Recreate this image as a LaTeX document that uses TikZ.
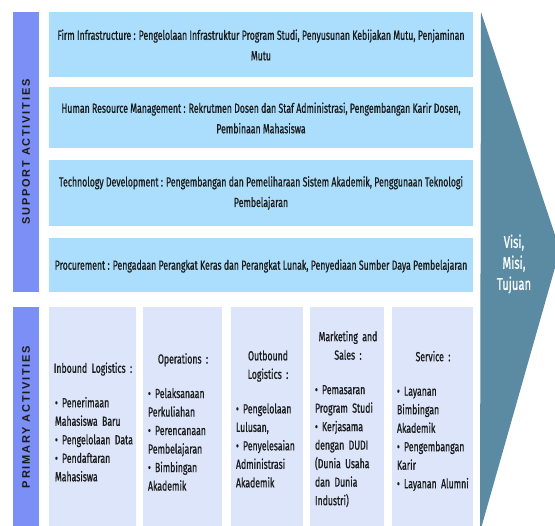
\documentclass[tikz,border=0pt]{standalone}
\usepackage{fontspec}
\setmainfont{Fira Sans}[FakeStretch=0.66, FakeBold=0.8]
\newfontfamily\labelfont{Liberation Sans}[LetterSpace=16]
\definecolor{barc}{HTML}{7C8FF6}
\definecolor{supc}{HTML}{ABDEFC}
\definecolor{primc}{HTML}{DCE5FA}
\definecolor{arrc}{HTML}{5A8BA2}
\definecolor{txtc}{HTML}{1A1A1A}
\newcommand{\bitem}[1]{\par\noindent\hangindent=7pt\hangafter=1\makebox[7pt][l]{\textbullet}#1}
\newcommand{\hdline}[1]{\noindent\makebox[\linewidth][c]{#1}\par}
\begin{document}
\begin{tikzpicture}[x=1pt,y=-1pt,
  bar/.style={fill=barc},
  supbox/.style={fill=supc},
  primbox/.style={fill=primc},
  suptext/.style={font=\fontsize{13.2}{20.5}\selectfont, text=txtc, align=center, inner sep=0pt},
  primtext/.style={font=\fontsize{13.2}{18.5}\selectfont, text=txtc, align=left, inner sep=0pt},
  lbl/.style={font=\labelfont\bfseries\fontsize{11}{12}\selectfont, text=txtc, rotate=90, inner sep=0pt},
  vtext/.style={font=\fontsize{17}{21}\selectfont, text=white, align=center, inner sep=0pt}]
\useasboundingbox (0,0) rectangle (555,526);
% arrow
\fill[arrc] (481,12) -- (560,250) -- (480,532) -- cycle;
\node[vtext] (vmt) at (514,264) {Visi,\\Misi,\\Tujuan};
% label bars
\fill[bar] (13,12) rectangle (39,292);
\fill[bar] (13,307) rectangle (39,526);
\node[lbl] (lsup) at (26,152) {SUPPORT ACTIVITIES};
\node[lbl] (lprim) at (26,417) {PRIMARY ACTIVITIES};
% support boxes
\fill[supbox] (49,12) rectangle (473,77);
\fill[supbox] (49,87) rectangle (473,148);
\fill[supbox] (49,160) rectangle (473,226);
\fill[supbox] (49,238) rectangle (473,292);
\node[suptext] (s1) at (261,45) {Firm Infrastructure : Pengelolaan Infrastruktur Program Studi, Penyusunan Kebijakan Mutu, Penjaminan\\Mutu};
\node[suptext] (s2) at (261,118) {Human Resource Management : Rekrutmen Dosen dan Staf Administrasi, Pengembangan Karir Dosen,\\Pembinaan Mahasiswa};
\node[suptext] (s3) at (261,193) {Technology Development : Pengembangan dan Pemeliharaan Sistem Akademik, Penggunaan Teknologi\\Pembelajaran};
\node[suptext] (s4) at (261,266) {Procurement : Pengadaan Perangkat Keras dan Perangkat Lunak, Penyediaan Sumber Daya Pembelajaran};
% primary columns
\fill[primbox] (49,307) rectangle (136,526);
\fill[primbox] (143,307) rectangle (222,526);
\fill[primbox] (231,307) rectangle (303,526);
\fill[primbox] (310,307) rectangle (384,526);
\fill[primbox] (392,307) rectangle (473,526);
\node[primtext, text width=76pt] (p1) at (93,422) {\hdline{Inbound Logistics :}\vspace{16pt}%
\bitem{Penerimaan\\Mahasiswa~Baru}\bitem{Pengelolaan~Data}\bitem{Pendaftaran\\Mahasiswa}};
\node[primtext, text width=70pt] (p2) at (183,422) {\hdline{Operations :}\vspace{16pt}%
\bitem{Pelaksanaan\\Perkuliahan}\bitem{Perencanaan\\Pembelajaran}\bitem{Bimbingan\\Akademik}};
\node[primtext, text width=64pt] (p3) at (268,419) {\hdline{Outbound}\hdline{Logistics :}\vspace{16pt}%
\bitem{Pengelolaan\\Lulusan,}\bitem{Penyelesaian\\Administrasi\\Akademik}};
\node[primtext, text width=66pt] (p4) at (348,419) {\hdline{Marketing and}\hdline{Sales :}\vspace{16pt}%
\bitem{Pemasaran\\Program~Studi}\bitem{Kerjasama\\dengan~DUDI\\(Dunia~Usaha\\dan~Dunia\\Industri)}};
\node[primtext, text width=72pt] (p5) at (433,421) {\hdline{Service :}\vspace{16pt}%
\bitem{Layanan\\Bimbingan\\Akademik}\bitem{Pengembangan\\Karir}\bitem{Layanan~Alumni}};
\end{tikzpicture}
\end{document}
